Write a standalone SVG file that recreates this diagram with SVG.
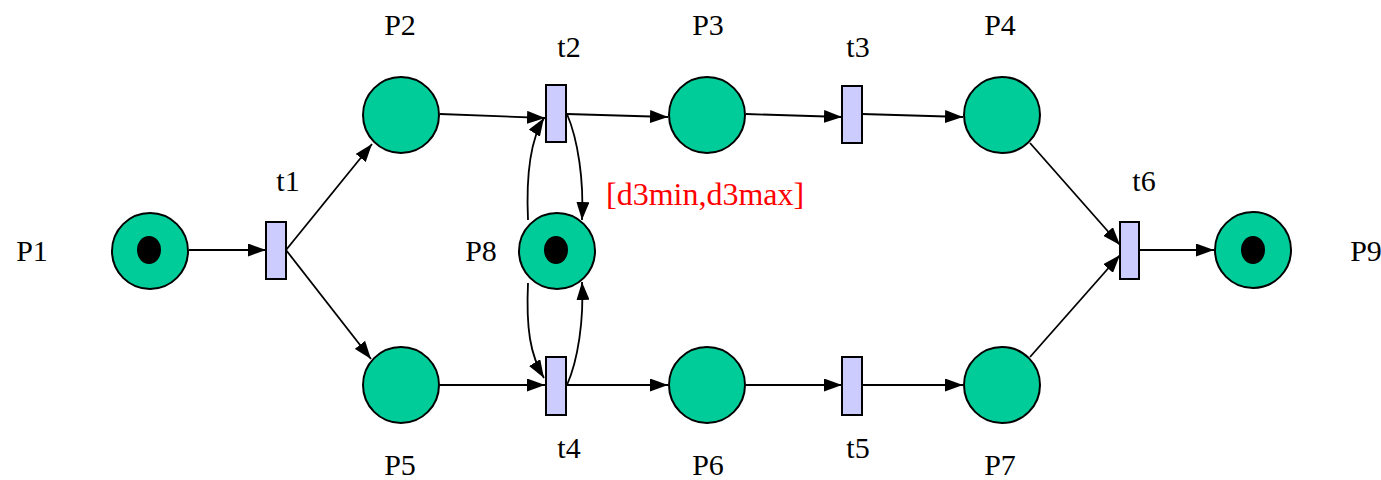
<svg xmlns="http://www.w3.org/2000/svg" width="1381" height="480" viewBox="0 0 1381 480">
<style>
.pl{fill:#00CC99;stroke:#000;stroke-width:2}
.tr{fill:#CCCCFF;stroke:#000;stroke-width:2}
.tk{fill:#000}
.lb{font-family:"Liberation Serif","Times New Roman",serif;font-size:30px;fill:#000;text-anchor:middle}
.e{fill:none;stroke:#000;stroke-width:1.8;marker-end:url(#ah)}
</style>
<defs>
<marker id="ah" markerWidth="18" markerHeight="13" refX="18" refY="6.5" orient="auto" markerUnits="userSpaceOnUse">
<path d="M0,0 L18,6.5 L0,13 Z" fill="#000"/>
</marker>
</defs>
<g id="connectors">
<path class="e" d="M189,250 L266,250"/>
<path class="e" d="M286,250 L372,144"/>
<path class="e" d="M286,250 L371,359"/>
<path class="e" d="M440,114 L545,118"/>
<path class="e" d="M567,114 L668,117"/>
<path class="e" d="M746,114 L842,117"/>
<path class="e" d="M862,114 L963,117"/>
<path class="e" d="M1030,143 L1120,245"/>
<path class="e" d="M1030,357 L1120,255"/>
<path class="e" d="M1139,250 L1214,250"/>
<path class="e" d="M440,385 L545,385"/>
<path class="e" d="M566,385 L668,385"/>
<path class="e" d="M746,385 L842,385"/>
<path class="e" d="M862,385 L963,385"/>
<path class="e" d="M528,220 C526,175 530,140 544,118"/>
<path class="e" d="M567,114 C578,140 584,180 582,220"/>
<path class="e" d="M528,283 C526,328 530,355 544,378"/>
<path class="e" d="M567,385 C578,360 584,320 582,282"/>
</g>
<g id="P1"><circle class="pl" cx="150" cy="251" r="38"/><ellipse class="tk" cx="149" cy="250" rx="12" ry="14"/><text class="lb" x="32" y="261">P1</text></g>
<g id="P2"><circle class="pl" cx="401" cy="115" r="38"/><text class="lb" x="400" y="35">P2</text></g>
<g id="P3"><circle class="pl" cx="707" cy="115" r="38"/><text class="lb" x="708" y="35">P3</text></g>
<g id="P4"><circle class="pl" cx="1002" cy="115" r="38"/><text class="lb" x="1000" y="35">P4</text></g>
<g id="P5"><circle class="pl" cx="401" cy="385" r="38"/><text class="lb" x="400" y="475">P5</text></g>
<g id="P6"><circle class="pl" cx="707" cy="385" r="38"/><text class="lb" x="708" y="475">P6</text></g>
<g id="P7"><circle class="pl" cx="1002" cy="385" r="38"/><text class="lb" x="1000" y="475">P7</text></g>
<g id="P8"><circle class="pl" cx="557" cy="251" r="38"/><ellipse class="tk" cx="556" cy="250" rx="12" ry="14"/><text class="lb" x="481" y="261">P8</text></g>
<g id="P9"><circle class="pl" cx="1253" cy="250" r="38"/><ellipse class="tk" cx="1253" cy="250" rx="12" ry="14"/><text class="lb" x="1366" y="261">P9</text></g>
<g id="t1"><rect class="tr" x="266" y="222" width="20" height="57"/><text class="lb" x="288" y="191">t1</text></g>
<g id="t2"><rect class="tr" x="546" y="85" width="20" height="57"/><text class="lb" x="569" y="57">t2</text></g>
<g id="t3"><rect class="tr" x="842" y="86" width="20" height="57"/><text class="lb" x="858" y="57">t3</text></g>
<g id="t4"><rect class="tr" x="546" y="357" width="20" height="58"/><text class="lb" x="569" y="458">t4</text></g>
<g id="t5"><rect class="tr" x="842" y="357" width="20" height="58"/><text class="lb" x="858" y="458">t5</text></g>
<g id="t6"><rect class="tr" x="1120" y="222" width="19" height="57"/><text class="lb" x="1144" y="191">t6</text></g>
<text x="606" y="205" font-family="Liberation Serif, Times New Roman, serif" font-size="32" fill="#FF0000">[d3min,d3max]</text>
</svg>
